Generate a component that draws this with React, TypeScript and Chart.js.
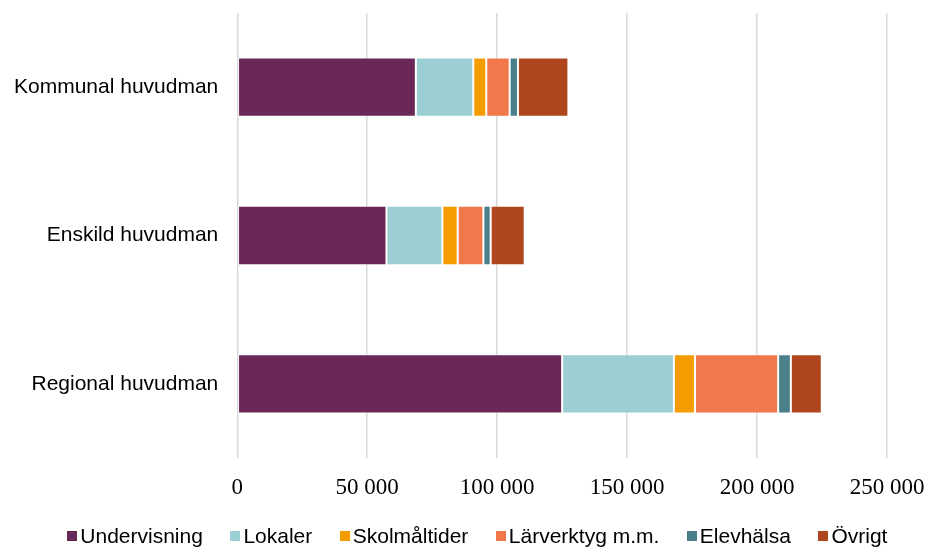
import { useEffect, useRef } from "react";
import { Chart, registerables } from "chart.js";

Chart.register(...registerables);

// huvudmän (categories on the y axis)
const categories = ["Kommunal huvudman", "Enskild huvudman", "Regional huvudman"];

// cost per series, one value per category
const undervisning = [68700, 57400, 125000];
const lokaler = [22100, 21500, 43000];
const skolmaltider = [5000, 5900, 8100];
const larverktyg = [9000, 9900, 32000];
const elevhalsa = [3200, 2800, 4900];
const ovrigt = [19400, 13100, 11900];

const seriesNames = ["Undervisning", "Lokaler", "Skolmåltider", "Lärverktyg m.m.", "Elevhälsa", "Övrigt"];
const seriesColors = ["#6a2858", "#9ccfd3", "#f59c00", "#f0784a", "#4b7f8a", "#b0461d"];

const xTicks = [0, 50000, 100000, 150000, 200000, 250000];

const formatNumber = (v: number) => String(v).replace(/\B(?=(\d{3})+(?!\d))/g, " ");

const CostChart = () => {
    const canvasRef = useRef<HTMLCanvasElement>(null);
    const chartRef = useRef<Chart | null>(null);

    useEffect(() => {
        if (!canvasRef.current) return;
        chartRef.current?.destroy();

        const values = [undervisning, lokaler, skolmaltider, larverktyg, elevhalsa, ovrigt];

        chartRef.current = new Chart(canvasRef.current, {
            type: "bar",
            data: {
                labels: categories,
                datasets: values.map((data, i) => ({
                    label: seriesNames[i],
                    data,
                    backgroundColor: seriesColors[i],
                    borderColor: "rgba(255,255,255,0.45)",
                    borderWidth: 1,
                    borderSkipped: false,
                    barPercentage: 0.4,
                    categoryPercentage: 1,
                })),
            },
            options: {
                indexAxis: "y",
                animation: false,
                responsive: true,
                maintainAspectRatio: false,
                layout: {
                    padding: { left: 14, right: 40, top: 13, bottom: 44.5 },
                },
                plugins: {
                    legend: { display: false },
                    tooltip: { enabled: false },
                },
                scales: {
                    x: {
                        stacked: true,
                        min: 0,
                        max: 250000,
                        afterBuildTicks: (axis) => {
                            axis.ticks = xTicks.map((value) => ({ value }));
                        },
                        // keep the axis box tight, labels overhang into the layout padding
                        afterFit: (scale) => {
                            scale.height = 44.5;
                            scale.paddingLeft = 0;
                            scale.paddingRight = 0;
                        },
                        grid: {
                            color: "#d9d9d9",
                            lineWidth: 1.5,
                            drawTicks: false,
                        },
                        border: { display: false },
                        ticks: {
                            padding: 16.5,
                            color: "#000",
                            font: { family: "'Liberation Serif', 'Times New Roman', serif", size: 23 },
                            callback: (v) => formatNumber(Number(v)),
                        },
                    },
                    y: {
                        stacked: true,
                        afterFit: (scale) => {
                            scale.width = 223.3;
                            scale.paddingTop = 0;
                            scale.paddingBottom = 0;
                        },
                        grid: { display: false, drawTicks: false },
                        border: { display: false },
                        ticks: {
                            padding: 19,
                            color: "#000",
                            font: { family: "'Liberation Sans', Arial, sans-serif", size: 21 },
                        },
                    },
                },
            },
        });

        return () => {
            chartRef.current?.destroy();
            chartRef.current = null;
        };
    }, []);

    return (
        <div style={{ position: "absolute", left: 0, top: 0, width: 927, height: 547, background: "#fff" }}>
            <canvas ref={canvasRef} />
            <div
                style={{
                    position: "absolute",
                    left: 67.3,
                    top: 524,
                    height: 24,
                    display: "flex",
                    alignItems: "center",
                    gap: 27.5,
                    fontFamily: "'Liberation Sans', Arial, sans-serif",
                    fontSize: 21,
                    lineHeight: "24px",
                    color: "#000",
                    whiteSpace: "nowrap",
                }}
            >
                {seriesNames.map((name, i) => (
                    <div key={name} style={{ display: "flex", alignItems: "center" }}>
                        <span
                            style={{
                                display: "inline-block",
                                width: 10,
                                height: 10,
                                marginRight: 3,
                                background: seriesColors[i],
                            }}
                        />
                        <span>{name}</span>
                    </div>
                ))}
            </div>
        </div>
    );
};

export default function App() {
    return <CostChart />;
}
